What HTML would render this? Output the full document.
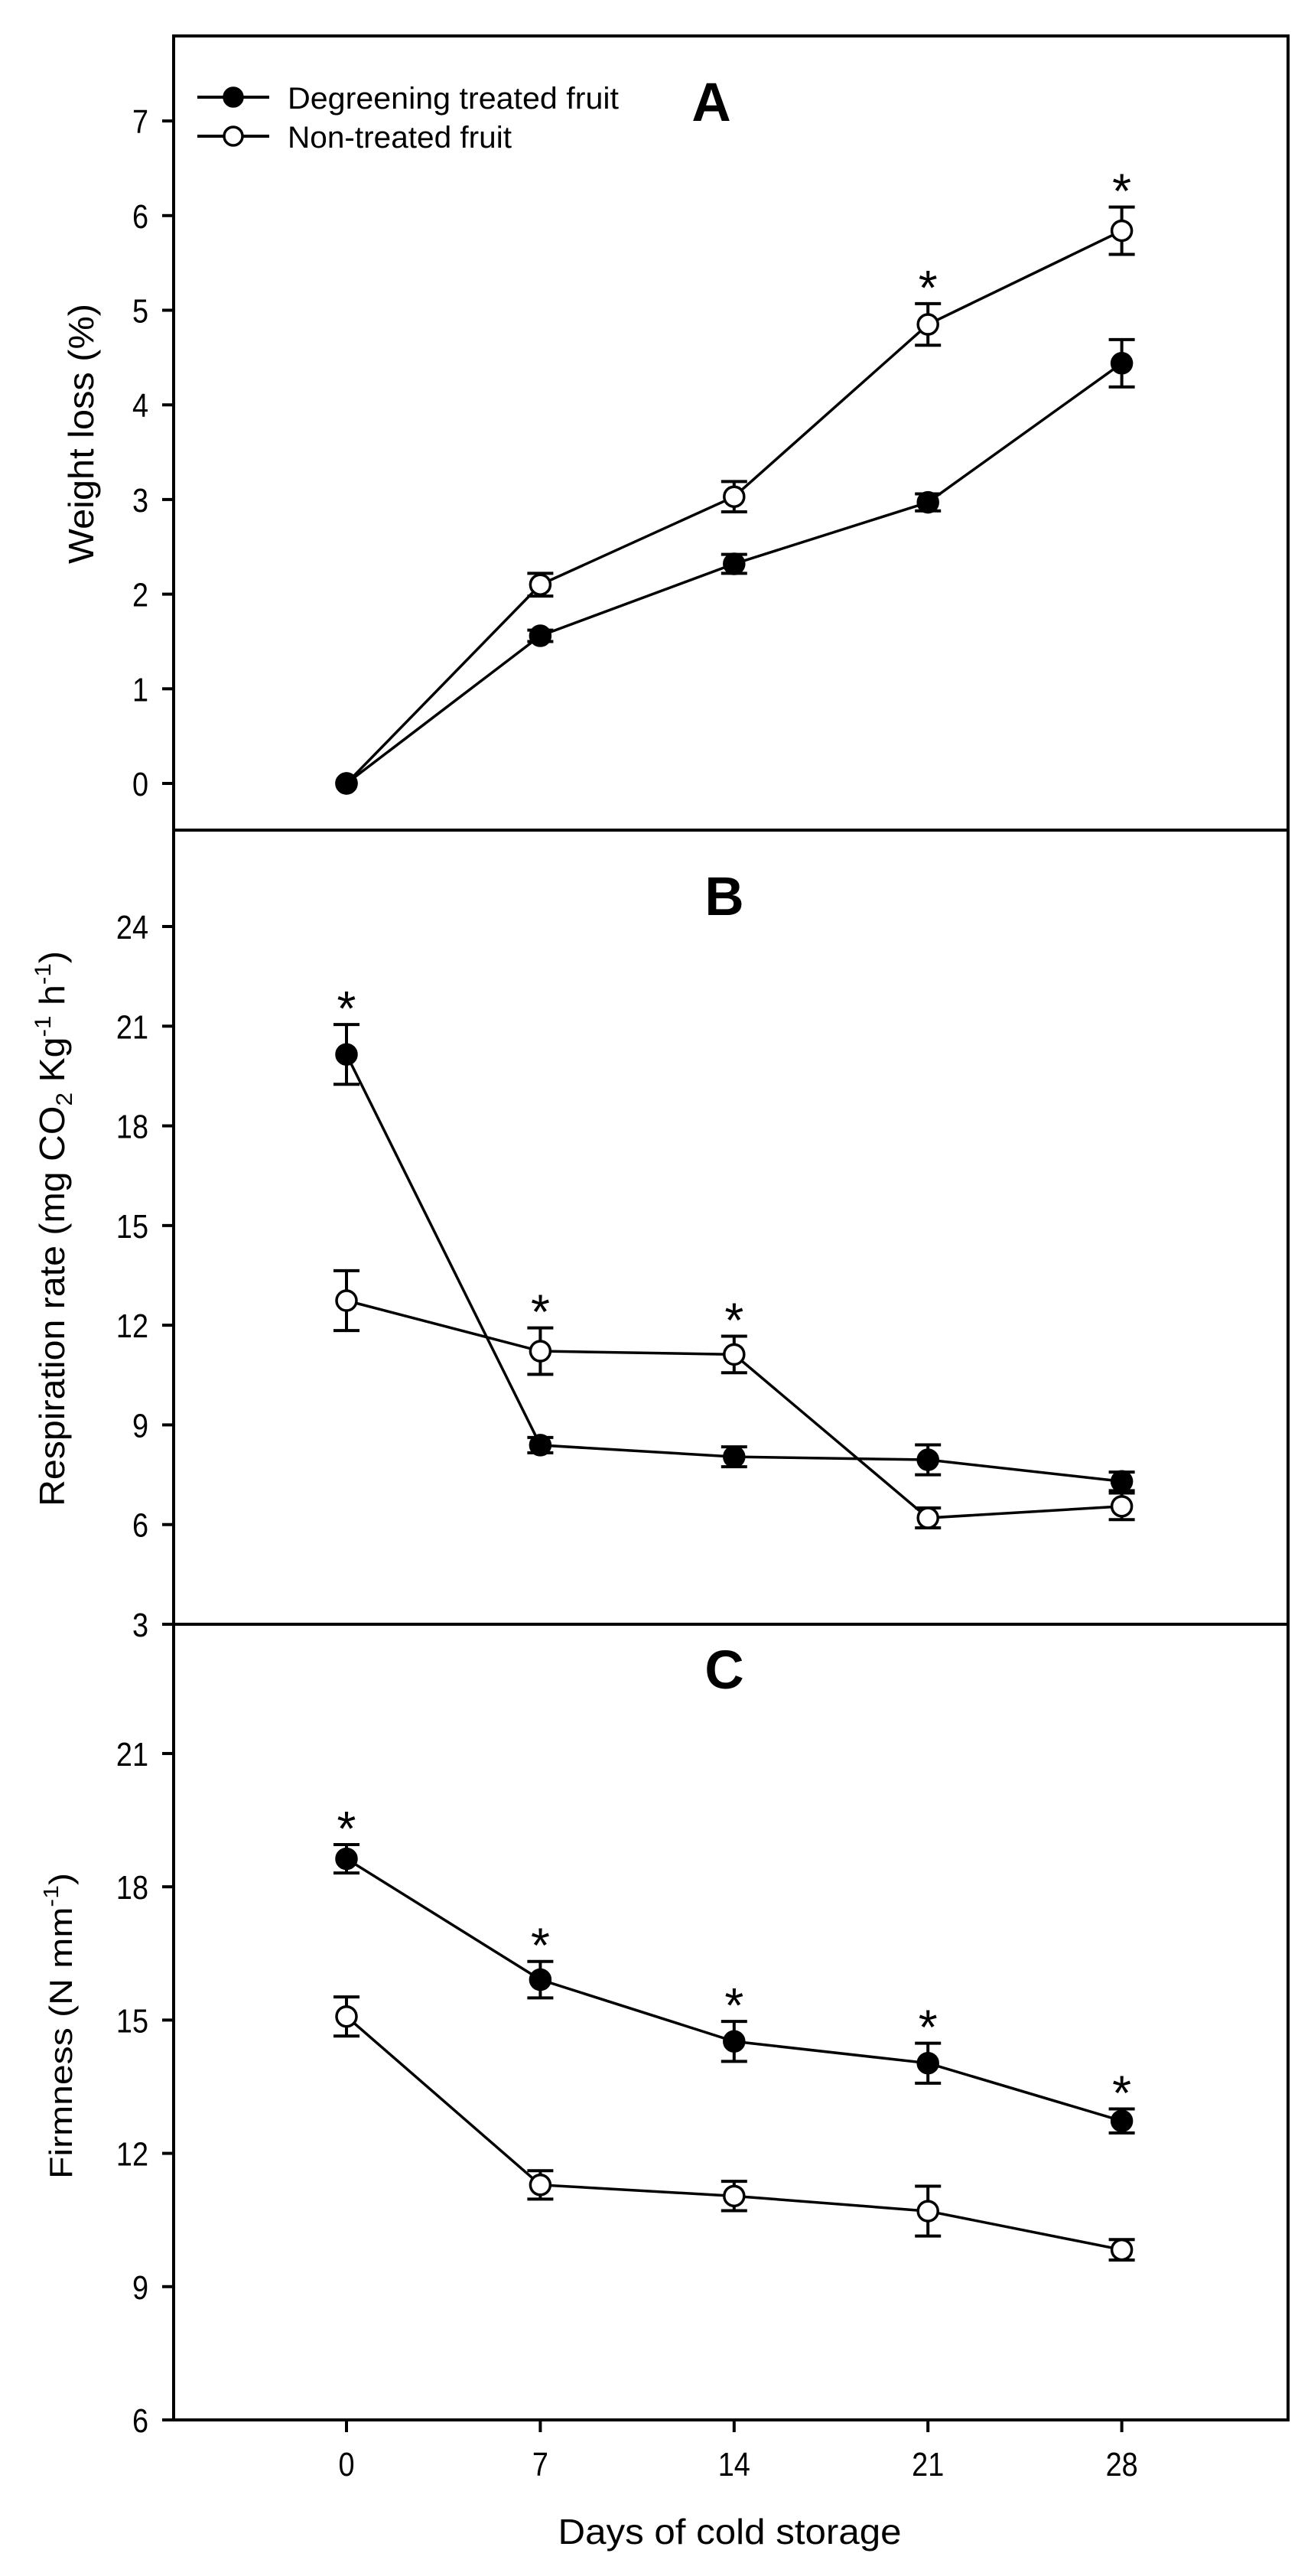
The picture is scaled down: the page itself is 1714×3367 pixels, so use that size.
<!DOCTYPE html>
<html><head><meta charset="utf-8"><style>
html,body{margin:0;padding:0;background:#fff;}
svg{display:block;font-family:"Liberation Sans",Arial,sans-serif;}
</style></head><body>
<svg id="chart" width="1714" height="3367" viewBox="0 0 1714 3367" xmlns="http://www.w3.org/2000/svg">
<rect x="0" y="0" width="1714" height="3367" fill="#fff"/>
</svg>
<script>
const days = [0, 7, 14, 21, 28];
const xTicks = ["0", "7", "14", "21", "28"];
// Panel A: weight loss
const aDeg = [0, 1.56, 2.32, 2.97, 4.44];
const aDegErr = [0, 0.06, 0.1, 0.09, 0.25];
const aNon = [0, 2.10, 3.03, 4.85, 5.84];
const aNonErr = [0, 0.12, 0.16, 0.22, 0.25];
const aDegStar = [0, 0, 0, 0, 0];
const aNonStar = [0, 0, 0, 1, 1];
const aTicks = [0, 1, 2, 3, 4, 5, 6, 7];
// Panel B: respiration rate
const bDeg = [20.15, 8.39, 8.04, 7.95, 7.3];
const bDegErr = [0.9, 0.23, 0.3, 0.45, 0.28];
const bNon = [12.74, 11.22, 11.12, 6.2, 6.55];
const bNonErr = [0.9, 0.7, 0.55, 0.3, 0.4];
const bDegStar = [1, 0, 0, 0, 0];
const bNonStar = [0, 1, 1, 0, 0];
const bTicks = [3, 6, 9, 12, 15, 18, 21, 24];
// Panel C: firmness
const cDeg = [18.63, 15.91, 14.52, 14.03, 12.73];
const cDegErr = [0.32, 0.41, 0.45, 0.45, 0.27];
const cNon = [15.08, 11.29, 11.04, 10.70, 9.83];
const cNonErr = [0.44, 0.32, 0.33, 0.56, 0.23];
const cDegStar = [1, 1, 1, 1, 1];
const cNonStar = [0, 0, 0, 0, 0];
const cTicks = [6, 9, 12, 15, 18, 21];

const NS = "http://www.w3.org/2000/svg";
const svg = document.getElementById("chart");
function mk(tag, attrs, parent) {
  const e = document.createElementNS(NS, tag);
  for (const k in attrs) e.setAttribute(k, attrs[k]);
  (parent || svg).appendChild(e);
  return e;
}
const X0 = 453, XPD = 36.2;
function xPx(d) { return X0 + d * XPD; }
const L = 227, R = 1684, TOP = 47, AB = 1085, BC = 2123, BOT = 3163;
function yA(v) { return 1024 - v * 123.7; }
function yB(v) { return BC - (v - 3) * ((BC - 1211) / 21); }
function yC(v) { return BOT - (v - 6) * 58.07; }

const frame = mk("rect", {x: L, y: TOP, width: R - L, height: BOT - TOP, fill: "none", stroke: "#000", "stroke-width": 4});


const d1 = mk("line", {x1: L, x2: R, y1: AB, y2: AB, stroke: "#000", "stroke-width": 4});


const d2 = mk("line", {x1: L, x2: R, y1: BC, y2: BC, stroke: "#000", "stroke-width": 4});



function yAxis(ticks, yf, name) {
  const g = mk("g", {});
  
  
  ticks.forEach(t => {
    const y = yf(t);
    const tk = mk("line", {x1: L - 15, x2: L, y1: y, y2: y, stroke: "#000", "stroke-width": 4}, g);
    
    
    const tx = mk("text", {x: 0, y: 0, "font-size": 44, "text-anchor": "end", transform: `translate(194,${y + 16}) scale(0.86,1)`}, g);
    
    
    tx.textContent = String(t);
  });
}
yAxis(aTicks, yA, "y-axis-a");
yAxis(bTicks, yB, "y-axis-b");
yAxis(cTicks, yC, "y-axis-c");

const xg = mk("g", {});


days.forEach((d, i) => {
  const x = xPx(d);
  const tk = mk("line", {x1: x, x2: x, y1: BOT, y2: BOT + 16, stroke: "#000", "stroke-width": 4}, xg);
  
  
  const tx = mk("text", {x: 0, y: 0, "font-size": 44, "text-anchor": "middle", transform: `translate(${x},3236) scale(0.86,1)`}, xg);
  
  
  tx.textContent = xTicks[i];
});
const xt = mk("text", {x: 954, y: 3325, "font-size": 46, "text-anchor": "middle", textLength: 449, lengthAdjust: "spacingAndGlyphs"});


xt.textContent = "Days of cold storage";

function yTitle(html, bx, cy, fs, len, name) {
  const t = mk("text", {x: 0, y: 0, "font-size": fs, "text-anchor": "middle", transform: `translate(${bx},${cy}) rotate(-90)`, textLength: len, lengthAdjust: "spacingAndGlyphs"});
  
  
  t.innerHTML = html;
}
yTitle("Weight loss (%)", 122, 567, 46, 340, "y-axis-title-a");
yTitle('Respiration rate (mg CO<tspan dy="10" font-size="30">2</tspan><tspan dy="-10"> Kg</tspan><tspan dy="-18" font-size="30">-1</tspan><tspan dy="18"> h</tspan><tspan dy="-18" font-size="30">-1</tspan><tspan dy="18">)</tspan>', 84, 1606, 46, 726, "y-axis-title-b");
yTitle('Firmness (N mm<tspan dy="-18" font-size="28">-1</tspan><tspan dy="18">)</tspan>', 94, 2648, 42, 400, "y-axis-title-c");

[["A", 930, 158, "panel-label-a"], ["B", 947, 1196, "panel-label-b"], ["C", 947, 2207, "panel-label-c"]].forEach(p => {
  const t = mk("text", {x: p[1], y: p[2], "font-size": 71, "font-weight": "bold", "text-anchor": "middle"});
  
  
  t.textContent = p[0];
});

const lg = mk("g", {});


[[127, "#000", "Degreening treated fruit", 433, "legend-entry-degreening"], [178, "#fff", "Non-treated fruit", 293, "legend-entry-non-treated"]].forEach(e => {
  const g = mk("g", {}, lg);
  
  
  mk("line", {x1: 258, x2: 352, y1: e[0], y2: e[0], stroke: "#000", "stroke-width": 4}, g);
  mk("circle", {cx: 305, cy: e[0], r: 12, fill: e[1], stroke: "#000", "stroke-width": 3.5}, g);
  const t = mk("text", {x: 376, y: e[0] + 15, "font-size": 40, textLength: e[3], lengthAdjust: "spacingAndGlyphs"}, g);
  t.textContent = e[2];
});

function series(vals, errs, stars, yf, fill, name) {
  const g = mk("g", {});
  
  
  const pts = vals.map((v, i) => xPx(days[i]) + "," + yf(v)).join(" ");
  const pl = mk("polyline", {points: pts, fill: "none", stroke: "#000", "stroke-width": 3.5}, g);
  
  
  vals.forEach((v, i) => {
    const x = xPx(days[i]);
    const e = errs[i];
    if (e > 0) {
      const top = yf(v + e), bot = yf(v - e);
      const eb = mk("path", {d: `M${x},${top}V${bot}M${x - 17},${top}H${x + 17}M${x - 17},${bot}H${x + 17}`, stroke: "#000", "stroke-width": 4, fill: "none"}, g);
      
      
    }
    const c = mk("circle", {cx: x, cy: yf(v), r: 13, fill: fill, stroke: "#000", "stroke-width": 3.5}, g);
    
    
    if (stars[i]) {
      const sy = yf(v + e) - 35;
      const s = mk("text", {x: x, y: sy + 36, "font-size": 64, "text-anchor": "middle"}, g);
      
      
      s.textContent = "*";
    }
  });
}
series(aNon, aNonErr, aNonStar, yA, "#fff", "series-a-non-treated");
series(aDeg, aDegErr, aDegStar, yA, "#000", "series-a-degreening");
series(bNon, bNonErr, bNonStar, yB, "#fff", "series-b-non-treated");
series(bDeg, bDegErr, bDegStar, yB, "#000", "series-b-degreening");
series(cNon, cNonErr, cNonStar, yC, "#fff", "series-c-non-treated");
series(cDeg, cDegErr, cDegStar, yC, "#000", "series-c-degreening");
</script>
</body></html>
